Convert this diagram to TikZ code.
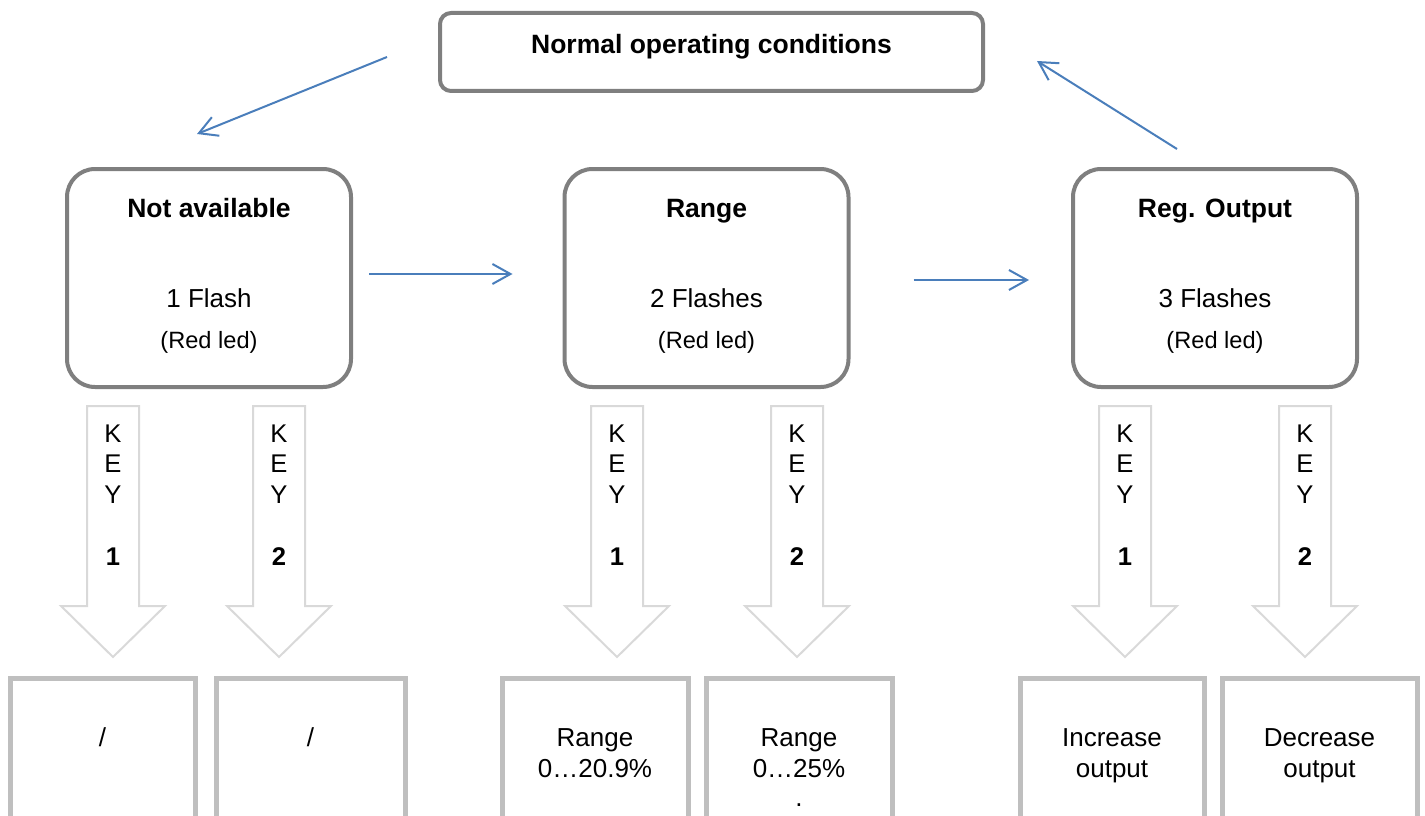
\documentclass[tikz,border=0pt]{standalone}
\usepackage{fontspec}
\setmainfont{Liberation Sans}
\usetikzlibrary{arrows.meta,calc}
\definecolor{edgegrey}{HTML}{7F7F7F}
\definecolor{keygrey}{HTML}{D9D9D9}
\definecolor{boxgrey}{HTML}{BFBFBF}
\definecolor{flowblue}{HTML}{4A7EBB}

\begin{document}
\begin{tikzpicture}[x=1pt,y=-1pt,
		normal/.style={draw=edgegrey,line width=4pt,rounded corners=11pt,minimum width=543pt,minimum height=78pt,inner sep=0pt,outer sep=0pt},
		state/.style={draw=edgegrey,line width=4pt,rounded corners=28pt,minimum width=284pt,minimum height=218pt,inner sep=0pt,outer sep=0pt},
		result/.style={draw=boxgrey,line width=5pt,minimum height=200pt,inner sep=0pt,outer sep=0pt},
		keyshape/.style={draw=keygrey,line width=2pt},
		flow/.style={draw=flowblue,line width=2pt,-{Straight Barb[length=18pt,width=20pt]}},
		title/.style={anchor=base,inner sep=0pt,font=\bfseries\fontsize{26.5}{32}\selectfont},
		txt/.style={anchor=base,inner sep=0pt,font=\fontsize{26}{31}\selectfont},
		led/.style={anchor=base,inner sep=0pt,font=\fontsize{23.6}{28}\selectfont},
		keytxt/.style={anchor=base,inner sep=0pt,font=\fontsize{25.6}{30}\selectfont}]
	\useasboundingbox (0,0) rectangle (1425,816);
	\clip (0,0) rectangle (1425,816);

	\node[normal] (top) at (711.5,52) {};
	\node[title] (top-t) at (711.5,53.5) {Normal operating conditions};

	\node[state] (na) at (209,278) {};
	\node[state] (rg) at (706.5,278) {};
	\node[state] (ro) at (1215,278) {};
	\foreach \n/\h/\f in {na/Not available/1 Flash,rg/Range/2 Flashes,ro/Reg. Output/3 Flashes} {
		\node[title] (\n-t) at ($(\n.north)+(0,48.5)$) {\h};
		\node[txt] (\n-f) at ($(\n.north)+(0,138.5)$) {\f};
		\node[led] (\n-l) at ($(\n.north)+(0,179)$) {(Red led)};
	}

	\draw[flow] ($(top.west)+(-53,5)$) -- ($(na.north)+(-12,-35)$);
	\draw[flow] ($(na.east)+(18,-4)$) -- ($(rg.west)+(-52,-4)$);
	\draw[flow] ($(rg.east)+(65,2)$) -- ($(ro.west)+(-44,2)$);
	\draw[flow] ($(ro.north)+(-38,-20)$) -- ($(top.east)+(54,9)$);

	\foreach \c/\k [count=\i] in {113/1,279/2,617/1,797/2,1125/1,1305/2} {
		\draw[keyshape] (\c-26,406) -- (\c+26,406) -- (\c+26,606) -- (\c+52,606) -- (\c,657) -- (\c-52,606) -- (\c-26,606) -- cycle;
		\node[keytxt] (k\i-a) at (\c,442) {K};
		\node[keytxt] (k\i-b) at (\c,472.5) {E};
		\node[keytxt] (k\i-c) at (\c,503) {Y};
		\node[keytxt,font=\bfseries\fontsize{25.6}{30}\selectfont] (k\i-n) at (\c,565) {\k};
	}

	\foreach \c/\w [count=\i] in {102.5/185,310.5/189,595/186,799/186,1112/184,1319.5/195}
		\node[result,minimum width=\w pt] (b\i) at (\c,778.5) {};
	\node[txt] (b1-a) at ($(b1.north)+(0,68)$) {/};
	\node[txt] (b2-a) at ($(b2.north)+(0,68)$) {/};
	\node[txt] (b3-a) at ($(b3.north)+(0,68)$) {Range};
	\node[txt] (b3-b) at ($(b3.north)+(0,98.5)$) {0…20.9\%};
	\node[txt] (b4-a) at ($(b4.north)+(0,68)$) {Range};
	\node[txt] (b4-b) at ($(b4.north)+(0,98.5)$) {0…25\%};
	\node[txt] (b4-c) at ($(b4.north)+(0,128)$) {.};
	\node[txt] (b5-a) at ($(b5.north)+(0,68)$) {Increase};
	\node[txt] (b5-b) at ($(b5.north)+(0,98.5)$) {output};
	\node[txt] (b6-a) at ($(b6.north)+(0,68)$) {Decrease};
	\node[txt] (b6-b) at ($(b6.north)+(0,98.5)$) {output};
\end{tikzpicture}
\end{document}
